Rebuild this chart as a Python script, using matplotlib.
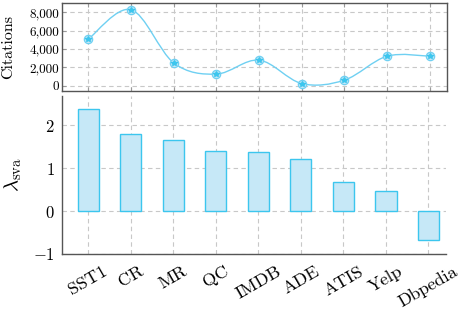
import numpy as np
import matplotlib as mpl
import matplotlib.pyplot as plt
from matplotlib.path import Path
from matplotlib.patches import PathPatch

datasets = ["SST1", "CR", "MR", "QC", "IMDB", "ADE", "ATIS", "Yelp", "Dbpedia"]
citations = [5090, 8300, 2500, 1280, 2800, 250, 620, 3230, 3230]
lambda_sva = [2.39, 1.79, 1.66, 1.40, 1.37, 1.22, 0.67, 0.465, -0.67]

mpl.rcParams.update({
    "font.family": "cmr10",
    "mathtext.fontset": "cm",
    "axes.formatter.use_mathtext": True,
    "axes.unicode_minus": True,
})

LINE = "#6fd0f2"
EDGE = "#3cc6ee"
FILL = "#c6e8f7"
GRID = "#c8c8c8"
FRAME = "#555555"


def smooth_path(xs, ys, k=1 / 6):
    """Cardinal-spline path through the points (like pgfplots 'smooth')."""
    pts = np.column_stack([xs, ys]).astype(float)
    n = len(pts)
    verts = [pts[0]]
    codes = [Path.MOVETO]
    for i in range(n - 1):
        p_prev = pts[max(i - 1, 0)]
        p0, p1 = pts[i], pts[i + 1]
        p_next = pts[min(i + 2, n - 1)]
        c1 = p0 + k * (p1 - p_prev)
        c2 = p1 - k * (p_next - p0)
        verts += [c1, c2, p1]
        codes += [Path.CURVE4] * 3
    return Path(verts, codes)


x = np.arange(len(datasets))
fig = plt.figure(figsize=(4.62, 3.10), dpi=100)
ax_top = fig.add_axes([0.134, 0.707, 0.834, 0.284])
ax_bot = fig.add_axes([0.134, 0.181, 0.831, 0.509])

# --- citations (top) ---
ax_top.add_patch(PathPatch(smooth_path(x, citations), facecolor="none",
                           edgecolor=LINE, linewidth=1.0, zorder=3))
ax_top.plot(x, citations, linestyle="none", marker="o", markersize=6,
            markerfacecolor=FILL, markeredgecolor=LINE, markeredgewidth=0.9, zorder=4)
ax_top.plot(x, citations, linestyle="none", marker="*", markersize=4,
            color=EDGE, zorder=5)
ax_top.set_xlim(-0.62, 8.41)
ax_top.set_ylim(-545, 9050)
ax_top.set_yticks([0, 2000, 4000, 6000, 8000])
ax_top.set_yticklabels(["0", "2,000", "4,000", "6,000", "8,000"], fontsize=9.5)
ax_top.set_xticks(x)
ax_top.set_xticklabels([])
ax_top.tick_params(axis="both", direction="in", length=3, color="#999999",
                   top=True, right=False, pad=2)
ax_top.grid(True, color=GRID, linestyle=(0, (4, 3)), linewidth=0.8)
for s in ax_top.spines.values():
    s.set_color(FRAME)
    s.set_linewidth(1.0)
ax_top.set_ylabel("Citations", fontsize=11.5)
ax_top.yaxis.set_label_coords(-0.122, 0.5)
ax_top.set_axisbelow(True)

# --- lambda_sva (bottom) ---
ax_bot.bar(x, lambda_sva, width=0.5, color=FILL, edgecolor=EDGE, linewidth=1.0, zorder=3)
ax_bot.set_xlim(-0.62, 8.41)
ax_bot.set_ylim(-1, 2.68)
ax_bot.set_yticks([-1, 0, 1, 2])
ax_bot.set_xticks(x)
ax_bot.set_xticklabels(datasets, rotation=30, ha="center", fontsize=13)
ax_bot.tick_params(axis="y", labelsize=12, length=0, pad=5)
ax_bot.tick_params(axis="x", length=0, pad=7)
ax_bot.grid(True, color=GRID, linestyle=(0, (4, 3)), linewidth=0.8)
ax_bot.set_axisbelow(True)
for side in ["top", "right"]:
    ax_bot.spines[side].set_visible(False)
for side in ["left", "bottom"]:
    ax_bot.spines[side].set_color(FRAME)
    ax_bot.spines[side].set_linewidth(1.0)
ax_bot.set_ylabel(r"$\lambda_{\mathrm{sva}}$", fontsize=15)
ax_bot.yaxis.set_label_coords(-0.1, 0.5)

fig.savefig("out.png", dpi=100)
